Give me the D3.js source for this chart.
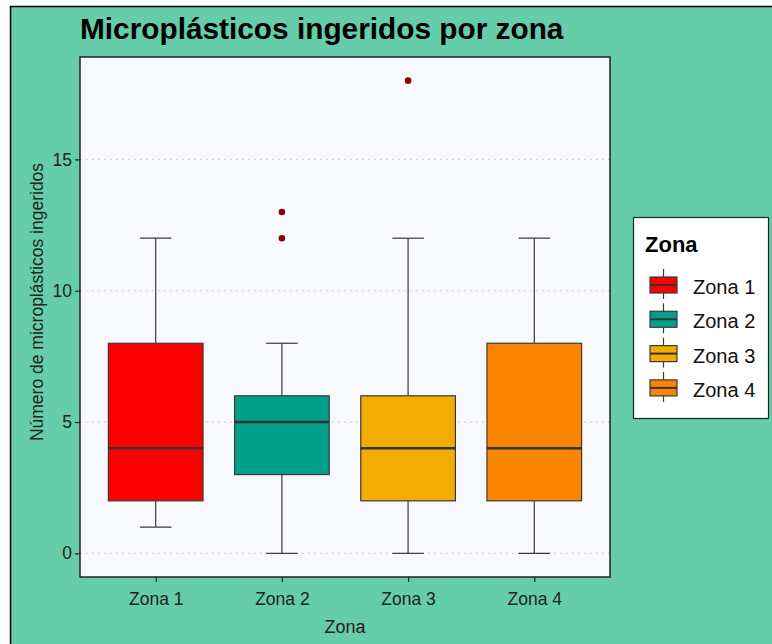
<!DOCTYPE html>
<html>
<head>
<meta charset="utf-8">
<title>Microplásticos ingeridos por zona</title>
<style>
  body { margin: 0; background: #fff; font-family: "Liberation Sans", Arial, sans-serif; }
  svg { display: block; }
</style>
</head>
<body>
<div id="chart"></div>
<script src="https://cdn.jsdelivr.net/npm/d3@7/dist/d3.min.js"></script>
<script>
// datos
var zonas = ["Zona 1", "Zona 2", "Zona 3", "Zona 4"];
var colores = ["#FF0000", "#00A08A", "#F2AD00", "#F98400"];
var minimos = [1, 0, 0, 0];
var q1 = [2, 3, 2, 2];
var medianas = [4, 5, 4, 4];
var q3 = [8, 6, 6, 8];
var maximos = [12, 8, 12, 12];
var atipicos = [[], [12, 13], [18], []];
var yTicks = [0, 5, 10, 15];

var W = 772, H = 644;
var margin = {top: 57, left: 80},
    width = 530,
    height = 520;

var svg = d3.select("#chart").append("svg")
    .attr("width", W)
    .attr("height", H);

// fondo
svg.append("rect").attr("x", 0).attr("y", 0).attr("width", W).attr("height", H).attr("fill", "#fff");
svg.append("rect")
    .attr("x", 10.5).attr("y", 6.5)
    .attr("width", W + 20).attr("height", H + 20)
    .attr("fill", "#66CDAA")
    .attr("stroke", "#000").attr("stroke-width", 1.5);

// ggplot discreto: expansion de 0.6 a cada lado
var xPos = d3.scalePoint().domain(zonas).range([width * 0.6 / 4.2, width * 3.6 / 4.2]);
var unit = width / 4.2;
var y = d3.scaleLinear().domain([-0.9, 18.9]).range([height, 0]);

var g = svg.append("g").attr("transform", "translate(" + margin.left + "," + margin.top + ")");

g.append("rect")
    .attr("width", width).attr("height", height)
    .attr("fill", "#F8F8FF");

// rejilla
g.selectAll(".grid").data(yTicks).enter().append("line")
    .attr("class", "grid")
    .attr("x1", 0).attr("x2", width)
    .attr("y1", function(d){ return y(d); })
    .attr("y2", function(d){ return y(d); })
    .attr("stroke", "#c8c8c8")
    .attr("stroke-width", 1.2)
    .attr("stroke-dasharray", "1.5,4.5");

var datos = zonas.map(function(z, i){
  return {zona: z, color: colores[i], min: minimos[i], q1: q1[i], med: medianas[i], q3: q3[i], max: maximos[i], out: atipicos[i]};
});

var boxW = unit * 0.75, capW = unit * 0.25;

var cajas = g.selectAll(".caja").data(datos).enter().append("g")
    .attr("class", "caja")
    .attr("transform", function(d){ return "translate(" + xPos(d.zona) + ",0)"; });

// bigotes
cajas.append("line")
    .attr("x1", 0).attr("x2", 0)
    .attr("y1", function(d){ return y(d.q3); })
    .attr("y2", function(d){ return y(d.max); })
    .attr("stroke", "#3a3a3a").attr("stroke-width", 1.2);
cajas.append("line")
    .attr("x1", 0).attr("x2", 0)
    .attr("y1", function(d){ return y(d.q1); })
    .attr("y2", function(d){ return y(d.min); })
    .attr("stroke", "#3a3a3a").attr("stroke-width", 1.2);
// extremos
cajas.append("line")
    .attr("x1", -capW / 2).attr("x2", capW / 2)
    .attr("y1", function(d){ return y(d.max); })
    .attr("y2", function(d){ return y(d.max); })
    .attr("stroke", "#3a3a3a").attr("stroke-width", 1.2);
cajas.append("line")
    .attr("x1", -capW / 2).attr("x2", capW / 2)
    .attr("y1", function(d){ return y(d.min); })
    .attr("y2", function(d){ return y(d.min); })
    .attr("stroke", "#3a3a3a").attr("stroke-width", 1.2);

cajas.append("rect")
    .attr("x", -boxW / 2).attr("width", boxW)
    .attr("y", function(d){ return y(d.q3); })
    .attr("height", function(d){ return y(d.q1) - y(d.q3); })
    .attr("fill", function(d){ return d.color; })
    .attr("stroke", "#3a3a3a").attr("stroke-width", 1.2);
cajas.append("line")
    .attr("x1", -boxW / 2).attr("x2", boxW / 2)
    .attr("y1", function(d){ return y(d.med); })
    .attr("y2", function(d){ return y(d.med); })
    .attr("stroke", "#333").attr("stroke-width", 2.4);

cajas.selectAll(".out").data(function(d){ return d.out; }).enter().append("circle")
    .attr("class", "out")
    .attr("cx", 0)
    .attr("cy", function(d){ return y(d); })
    .attr("r", 3.3)
    .attr("fill", "#8B0000");

// borde del panel
g.append("rect")
    .attr("width", width).attr("height", height)
    .attr("fill", "none").attr("stroke", "#222").attr("stroke-width", 1.5);

// ejes
var yAxis = g.append("g").call(d3.axisLeft(y).tickValues(yTicks).tickSize(5).tickPadding(3));
var xAxis = g.append("g").attr("transform", "translate(0," + height + ")")
    .call(d3.axisBottom(xPos).tickSize(5).tickPadding(11));
[yAxis, xAxis].forEach(function(a){
  a.select(".domain").remove();
  a.attr("font-size", null).attr("font-family", null);
  a.selectAll(".tick line").attr("stroke", "#222").attr("stroke-width", 1.2);
  a.selectAll(".tick text").attr("fill", "#222")
    .style("font-size", "17.5px");
});

svg.append("text")
    .attr("x", margin.left + width / 2).attr("y", 633)
    .attr("text-anchor", "middle")
    .style("font-size", "18px").attr("fill", "#222")
    .text("Zona");
svg.append("text")
    .attr("transform", "translate(43,302) rotate(-90)")
    .attr("text-anchor", "middle")
    .style("font-size", "17.5px").attr("fill", "#222")
    .text("Número de microplásticos ingeridos");

svg.append("text")
    .attr("x", 80).attr("y", 39)
    .style("font-size", "29.8px").style("font-weight", "bold").attr("fill", "#000")
    .text("Microplásticos ingeridos por zona");

// leyenda
var leg = svg.append("g").attr("transform", "translate(633,217)");
leg.append("rect").attr("x", 0.5).attr("y", 0.5).attr("width", 135).attr("height", 201)
    .attr("fill", "#fff").attr("stroke", "#222").attr("stroke-width", 1.2);
leg.append("text").attr("x", 12).attr("y", 35)
    .style("font-size", "22px").style("font-weight", "bold").attr("fill", "#000")
    .text("Zona");
var items = leg.selectAll(".item").data(datos).enter().append("g")
    .attr("class", "item")
    .attr("transform", function(d, i){ return "translate(17," + (69 + i * 34.3) + ")"; });
items.append("line").attr("x1", 13.5).attr("x2", 13.5).attr("y1", -17).attr("y2", 13)
    .attr("stroke", "#3a3a3a").attr("stroke-width", 1.2);
items.append("rect").attr("x", 0).attr("y", -9).attr("width", 27).attr("height", 16)
    .attr("fill", function(d){ return d.color; })
    .attr("stroke", "#3a3a3a").attr("stroke-width", 1.2);
items.append("line").attr("x1", 0).attr("x2", 27).attr("y1", -1).attr("y2", -1)
    .attr("stroke", "#333").attr("stroke-width", 2);
items.append("text").attr("x", 43).attr("y", 8)
    .style("font-size", "20px").attr("fill", "#111")
    .text(function(d){ return d.zona; });
</script>
</body>
</html>
